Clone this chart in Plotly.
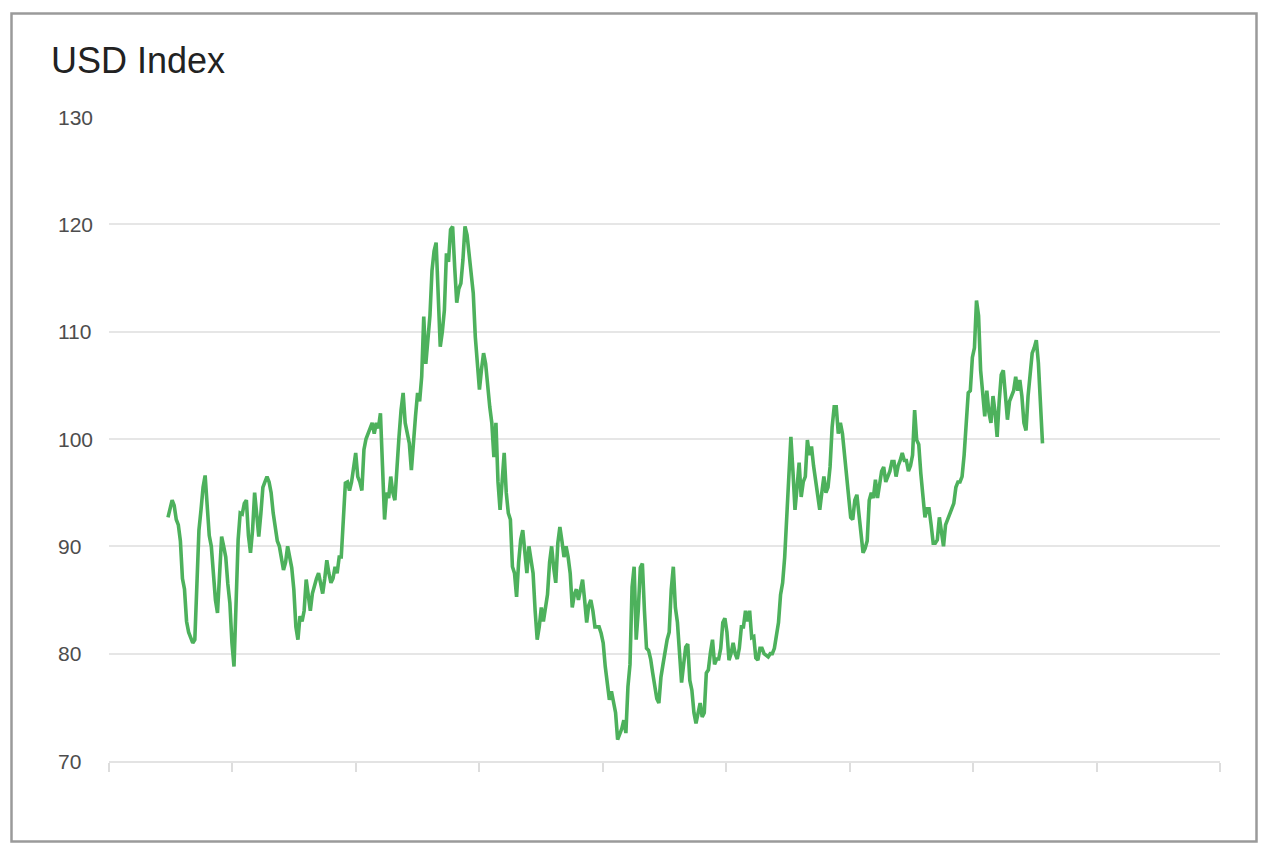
import plotly.graph_objects as go
import numpy as np

# ---- data: monthly USD index values (Jan 1990 .. May 2025) ----
v1990 = [92.7, 93.5, 94.3, 93.8, 92.5, 92.0, 90.5, 87.0, 86.0, 83.0, 82.0, 81.5]
v1991 = [81.0, 81.3, 87.0, 91.5, 93.4, 95.5, 96.6, 93.7, 91.0, 90.0, 87.0, 85.0]
v1992 = [83.8, 87.5, 90.9, 90.0, 89.0, 86.5, 84.7, 81.0, 78.8, 84.7, 90.6, 93.1]
v1993 = [93.0, 94.0, 94.3, 91.0, 89.4, 91.5, 95.0, 93.0, 90.9, 93.0, 95.5, 96.0]
v1994 = [96.5, 96.0, 95.0, 93.1, 92.0, 90.5, 90.0, 89.0, 87.8, 88.5, 90.0, 89.0]
v1995 = [88.0, 86.0, 82.5, 81.3, 83.5, 83.0, 84.0, 86.9, 85.5, 84.0, 85.6, 86.5]
v1996 = [87.0, 87.5, 86.5, 85.6, 87.0, 88.7, 87.5, 86.6, 87.0, 88.1, 87.5, 89.0]
v1997 = [89.0, 93.0, 95.9, 96.0, 95.2, 96.0, 97.5, 98.7, 96.5, 96.0, 95.2, 99.0]
v1998 = [100.0, 100.5, 100.8, 101.5, 100.5, 101.5, 101.0, 102.4, 97.5, 92.5, 95.0, 94.5]
v1999 = [96.5, 95.0, 94.3, 98.0, 100.2, 102.7, 104.3, 101.5, 100.5, 99.6, 97.1, 100.0]
v2000 = [102.1, 104.3, 103.5, 105.8, 111.4, 107.0, 109.5, 111.5, 115.7, 117.5, 118.3, 113.0]
v2001 = [108.6, 110.0, 112.0, 117.3, 116.5, 119.5, 119.8, 116.0, 112.7, 114.0, 114.5, 116.7]
v2002 = [119.8, 119.0, 117.0, 115.0, 113.6, 109.5, 106.4, 104.6, 106.5, 108.0, 107.0, 104.6]
v2003 = [103.0, 101.5, 98.3, 101.5, 96.0, 93.4, 96.0, 98.7, 95.0, 93.1, 92.5, 88.1]
v2004 = [87.5, 85.3, 88.5, 90.6, 91.5, 89.0, 87.5, 90.0, 88.5, 87.5, 84.0, 81.3]
v2005 = [82.5, 84.3, 83.0, 84.3, 85.5, 88.5, 90.0, 88.0, 86.6, 90.3, 91.8, 90.5]
v2006 = [89.0, 90.0, 89.0, 87.5, 84.3, 85.5, 86.0, 85.0, 86.0, 86.9, 85.0, 82.9]
v2007 = [84.5, 85.0, 84.0, 82.5, 82.5, 82.5, 81.9, 81.0, 78.8, 77.5, 75.7, 76.5]
v2008 = [75.5, 74.5, 72.0, 72.5, 73.0, 73.8, 72.6, 76.9, 79.0, 86.2, 88.1, 81.3]
v2009 = [84.0, 88.0, 88.4, 84.0, 80.5, 80.3, 79.5, 78.2, 77.0, 75.8, 75.4, 77.8]
v2010 = [79.0, 80.3, 81.3, 82.0, 86.0, 88.1, 84.3, 82.9, 80.0, 77.3, 79.0, 80.6]
v2011 = [80.9, 77.5, 76.6, 74.5, 73.5, 74.5, 75.4, 74.1, 74.5, 78.2, 78.5, 80.1]
v2012 = [81.3, 79.0, 79.5, 79.5, 80.5, 82.9, 83.3, 82.0, 79.4, 80.0, 81.0, 80.0]
v2013 = [79.5, 80.5, 82.5, 82.5, 84.0, 83.0, 84.0, 81.5, 81.6, 79.6, 79.4, 80.5]
v2014 = [80.5, 80.0, 79.8, 79.7, 80.0, 80.0, 80.5, 81.9, 82.9, 85.5, 86.6, 89.0]
v2015 = [92.5, 95.5, 100.2, 97.0, 93.4, 95.5, 97.8, 94.6, 96.0, 96.5, 99.9, 98.5]
v2016 = [99.3, 97.5, 96.2, 94.5, 93.4, 95.0, 96.5, 95.0, 95.5, 97.4, 101.1, 103.0]
v2017 = [103.0, 100.5, 101.5, 100.5, 98.5, 96.5, 94.5, 92.7, 92.5, 94.3, 94.8, 93.0]
v2018 = [91.5, 89.4, 89.8, 90.5, 94.3, 95.0, 94.5, 96.2, 94.5, 96.0, 97.0, 97.4]
v2019 = [96.0, 96.5, 97.0, 97.9, 97.9, 96.5, 97.5, 98.0, 98.7, 98.0, 98.0, 97.0]
v2020 = [97.5, 98.5, 102.7, 99.9, 99.5, 96.8, 94.3, 92.7, 93.5, 93.5, 92.0, 90.3]
v2021 = [90.3, 90.6, 92.7, 91.0, 90.0, 92.0, 92.5, 93.0, 93.5, 94.0, 95.5, 96.0]
v2022 = [96.0, 96.5, 98.5, 101.5, 104.3, 104.5, 107.6, 108.5, 112.9, 111.5, 106.4, 104.3]
v2023 = [102.1, 104.5, 102.5, 101.5, 104.0, 102.5, 100.2, 103.5, 106.0, 106.4, 103.5, 101.8]
v2024 = [103.5, 104.0, 104.5, 105.8, 104.5, 105.5, 104.0, 101.5, 100.8, 104.0, 106.5, 108.0]
v2025 = [108.5, 109.2, 107.1, 104.0, 99.6]

years = list(range(1990, 2026))
yearly_values = [v1990, v1991, v1992, v1993, v1994, v1995, v1996, v1997, v1998, v1999,
                 v2000, v2001, v2002, v2003, v2004, v2005, v2006, v2007, v2008, v2009,
                 v2010, v2011, v2012, v2013, v2014, v2015, v2016, v2017, v2018, v2019,
                 v2020, v2021, v2022, v2023, v2024, v2025]

y_tick_values = [70, 80, 90, 100, 110, 120, 130]
title_text = "USD Index"

# ---- build series ----
xs, ys = [], []
for yr, vals in zip(years, yearly_values):
    for m, v in enumerate(vals):
        xs.append(yr + m / 12.0)
        ys.append(v)

# ---- layout geometry ----
W, H = 1276, 860
L, R, T, B = 109, 56, 117, 99
PW, PH = W - L - R, H - T - B

def px_x(p):
    return (p - L) / PW

def px_y(p):
    return (H - B - p) / PH

x_min, x_max = 1987.616, 2032.505
x_tickvals = list(np.linspace(x_min, x_max, 10))

fig = go.Figure()
fig.add_trace(go.Scatter(
    x=xs, y=ys, mode="lines",
    line=dict(color="#4db15c", width=3.6),
    hoverinfo="skip", showlegend=False,
))

fig.update_layout(
    width=W, height=H,
    margin=dict(l=L, r=R, t=T, b=B, pad=0),
    paper_bgcolor="white", plot_bgcolor="white",
    font=dict(family="Liberation Sans, Arial, sans-serif"),
    xaxis=dict(
        range=[x_min, x_max], tickvals=x_tickvals, showticklabels=False,
        ticks="outside", ticklen=9, tickwidth=1.5, tickcolor="#dddddd",
        showgrid=False, zeroline=False,
        showline=True, linecolor="#e3e3e3", linewidth=1.5,
    ),
    yaxis=dict(
        range=[70, 130], tickvals=y_tick_values, showticklabels=False,
        showgrid=True, gridcolor="#e6e6e6", gridwidth=1.5,
        zeroline=False, showline=False, ticks="",
    ),
)

annotations = []
for v in y_tick_values:
    annotations.append(dict(
        x=px_x(56), xref="paper", y=v, yref="y",
        text=str(v), showarrow=False, xanchor="left", yanchor="middle",
        font=dict(size=21, color="#4d4d4d", family="Liberation Sans, Arial, sans-serif"),
    ))
annotations.append(dict(
    x=px_x(49), xref="paper", y=px_y(60), yref="paper",
    text=title_text, showarrow=False, xanchor="left", yanchor="middle",
    font=dict(size=36, color="#222222", family="Liberation Sans, Arial, sans-serif"),
))
fig.update_layout(annotations=annotations)

fig.add_shape(
    type="rect", xref="paper", yref="paper",
    x0=px_x(11.5), x1=px_x(1256.5), y0=px_y(841.5), y1=px_y(13.5),
    line=dict(color="#9a9a9a", width=2.5), fillcolor="rgba(0,0,0,0)", layer="above",
)

fig.write_html(
    "out.html",
    config={"displayModeBar": False},
    post_script="document.body.style.margin='0';document.body.style.overflow='hidden';",
)
